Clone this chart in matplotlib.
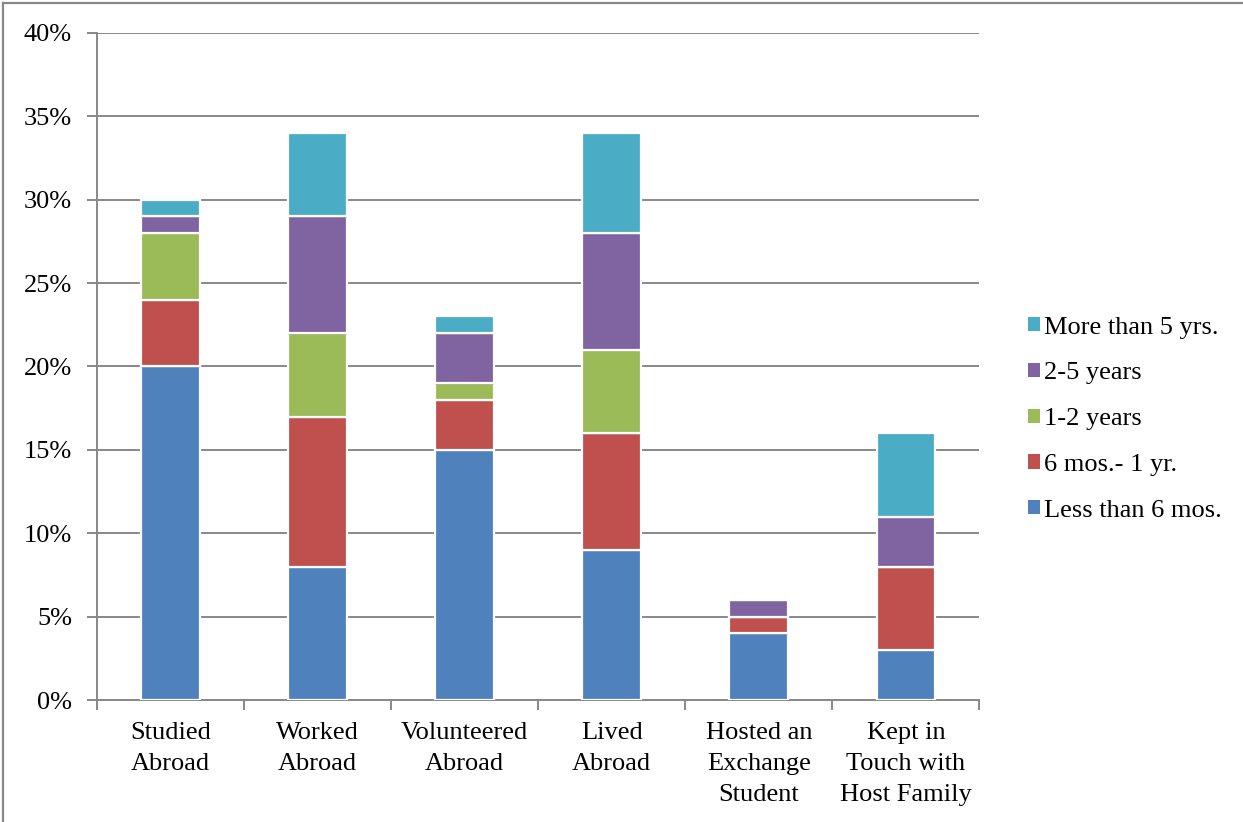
import matplotlib
matplotlib.use("Agg")
import matplotlib.pyplot as plt
import matplotlib.patheffects as pe
from matplotlib.lines import Line2D
import numpy as np

categories = ["Studied\nAbroad", "Worked\nAbroad", "Volunteered\nAbroad", "Lived\nAbroad",
              "Hosted an\nExchange\nStudent", "Kept in\nTouch with\nHost Family"]
series_names = ["Less than 6 mos.", "6 mos.- 1 yr.", "1-2 years", "2-5 years", "More than 5 yrs."]
less_6_mos = [20, 8, 15, 9, 4, 3]
mos6_to_1yr = [4, 9, 3, 7, 1, 5]
yrs_1_2 = [4, 5, 1, 5, 0, 0]
yrs_2_5 = [1, 7, 3, 7, 1, 3]
more_5_yrs = [1, 5, 1, 6, 0, 5]
series_values = [less_6_mos, mos6_to_1yr, yrs_1_2, yrs_2_5, more_5_yrs]
colors = ["#4F81BD", "#C0504D", "#9BBB59", "#8064A2", "#4BACC6"]
y_ticks = [0, 5, 10, 15, 20, 25, 30, 35, 40]

plt.rcParams["font.family"] = ["Liberation Serif", "DejaVu Serif"]

fig = plt.figure(figsize=(12.43, 8.22), dpi=100)
ax = fig.add_axes([0.078, 0.1484, 0.710, 0.8115])

x = np.arange(len(categories))
bottom = np.zeros(len(categories))
for name, vals, col in zip(series_names, series_values, colors):
    vals = np.array(vals, dtype=float)
    bars = ax.bar(x, vals, width=0.4, bottom=bottom, color=col, edgecolor="white",
                  linewidth=1.6, zorder=3, label=name)
    for b in bars:
        b.set_path_effects([pe.SimplePatchShadow(offset=(0, -1), shadow_rgbFace="#999999", alpha=0.35),
                            pe.Normal()])
    bottom += vals

ax.set_xlim(-0.5, len(categories) - 0.5)
ax.set_ylim(0, 40)
ax.set_yticks(y_ticks)
ax.set_yticklabels([f"{t}%" for t in y_ticks], fontsize=19)
ax.yaxis.grid(True, color="#888888", linewidth=1.4, zorder=0)
ax.tick_params(axis="y", length=7, width=1.4, color="#888888", pad=11)

ax.set_xticks(x)
ax.set_xticklabels(categories, fontsize=19, linespacing=1.53)
ax.tick_params(axis="x", length=0, pad=16)
ax.set_xticks(np.arange(len(categories) + 1) - 0.5, minor=True)
ax.tick_params(axis="x", which="minor", length=7, width=1.4, color="#888888")

for side in ["top", "right"]:
    ax.spines[side].set_visible(False)
for side in ["left", "bottom"]:
    ax.spines[side].set_color("#888888")
    ax.spines[side].set_linewidth(1.4)

h, l = ax.get_legend_handles_labels()
leg = fig.legend(h[::-1], l[::-1], loc="center left", bbox_to_anchor=(0.808, 0.490),
                 frameon=False, fontsize=19, handlelength=0.45, handleheight=0.45,
                 handletextpad=0.15, labelspacing=0.90)
for p in leg.get_patches():
    p.set_path_effects([])
    p.set_linewidth(0)

# outer frame of the chart area
fig.add_artist(Line2D([0.0025, 1.0], [0.9965, 0.9965], transform=fig.transFigure,
                      color="#888888", linewidth=1.6))
fig.add_artist(Line2D([0.0025, 0.0025], [0.0, 0.9965], transform=fig.transFigure,
                      color="#888888", linewidth=1.6))

fig.savefig("out.png", dpi=100)
